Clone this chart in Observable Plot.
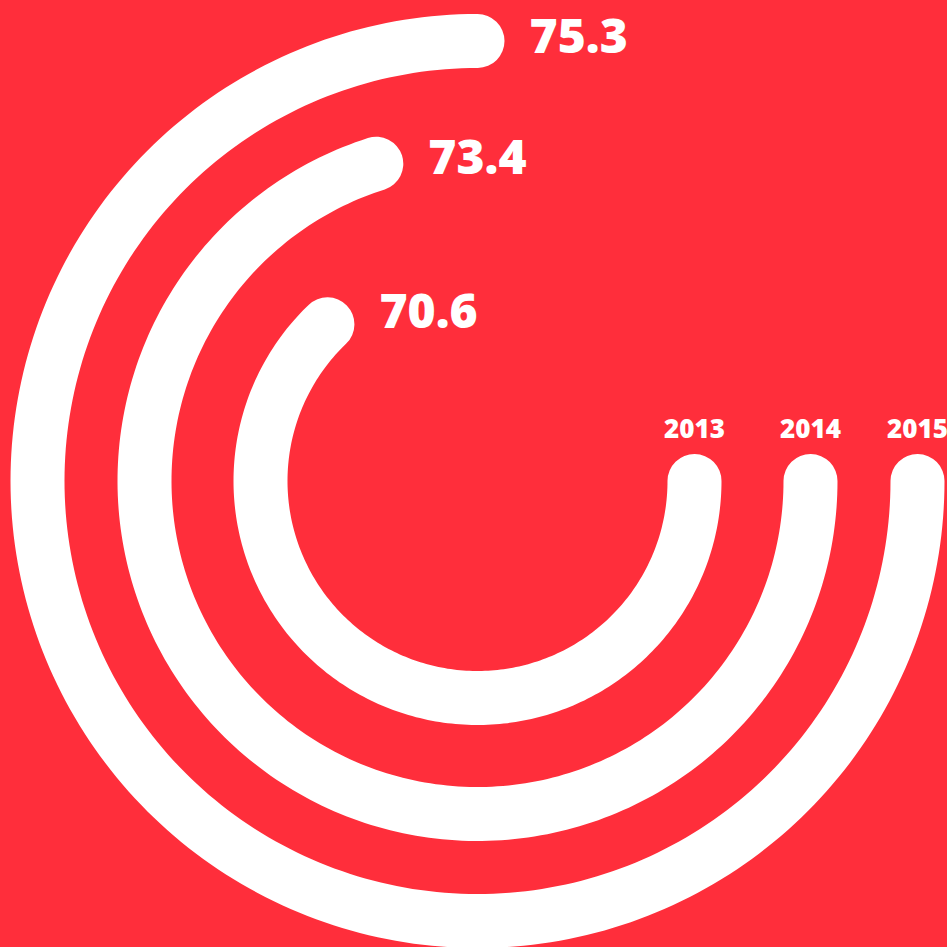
<!DOCTYPE html>
<html>
<head>
<meta charset="utf-8">
<script src="https://cdn.jsdelivr.net/npm/d3@7"></script>
<script src="https://cdn.jsdelivr.net/npm/@observablehq/plot@0.6"></script>
<style>
  html, body { margin: 0; padding: 0; background: #ff2e3b; }
  #chart { width: 947px; height: 947px; }
</style>
</head>
<body>
<div id="chart"></div>
<script>
// Data
const years = ["2013", "2014", "2015"];
const values = [70.6, 73.4, 75.3];
const valueLabels = ["70.6", "73.4", "75.3"];

const W = 947, H = 947;
const RED = "#ff2e3b";

// Scales mapping data to polar geometry
const radius = d3.scaleOrdinal(years, [217, 333, 440]);
const angle = d3.scaleLinear([46.3, 75.3], [0, 270]); // degrees, clockwise from 3 o'clock

// Build arc samples from the values
const arcPts = [];
years.forEach((yr, i) => {
  const end = angle(values[i]);
  const n = 240;
  for (let k = 0; k <= n; k++) {
    const a = (end * k / n) * Math.PI / 180;
    arcPts.push({year: yr, x: radius(yr) * Math.cos(a), y: radius(yr) * Math.sin(a)});
  }
});

const ends = years.map((yr, i) => {
  const a = angle(values[i]) * Math.PI / 180;
  const ty = Math.cos(a); // tangent y-component (clockwise, screen coords)
  return {
    year: yr,
    label: valueLabels[i],
    x: radius(yr) * Math.cos(a),
    y: radius(yr) * Math.sin(a) - 3 - 18 * ty * ty
  };
});

const starts = years.map(yr => ({year: yr, x: radius(yr), y: 0}));

const cx = 477, cy = 480.5;

const chart = Plot.plot({
  width: W,
  height: H,
  margin: 0,
  style: {background: RED, overflow: "visible"},
  x: {domain: [-cx, W - cx], range: [0, W], axis: null},
  y: {domain: [-cy, H - cy], range: [0, H], axis: null},
  marks: [
    Plot.line(arcPts, {
      x: "x", y: "y", z: "year",
      stroke: "white", strokeWidth: 54, strokeLinecap: "round", strokeLinejoin: "round"
    }),
    Plot.text(ends, {
      x: "x", y: "y", text: "label",
      dx: 52, textAnchor: "start", lineAnchor: "middle",
      fill: "white", fontSize: 48, fontWeight: 800,
      fontFamily: "'Open Sans', sans-serif"
    }),
    Plot.text(starts, {
      x: "x", y: "y", text: "year",
      dy: -51, textAnchor: "middle", lineAnchor: "middle",
      fill: "white", fontSize: 26, fontWeight: 800,
      fontFamily: "'Open Sans', sans-serif"
    })
  ]
});

document.getElementById("chart").appendChild(chart);
</script>
</body>
</html>
